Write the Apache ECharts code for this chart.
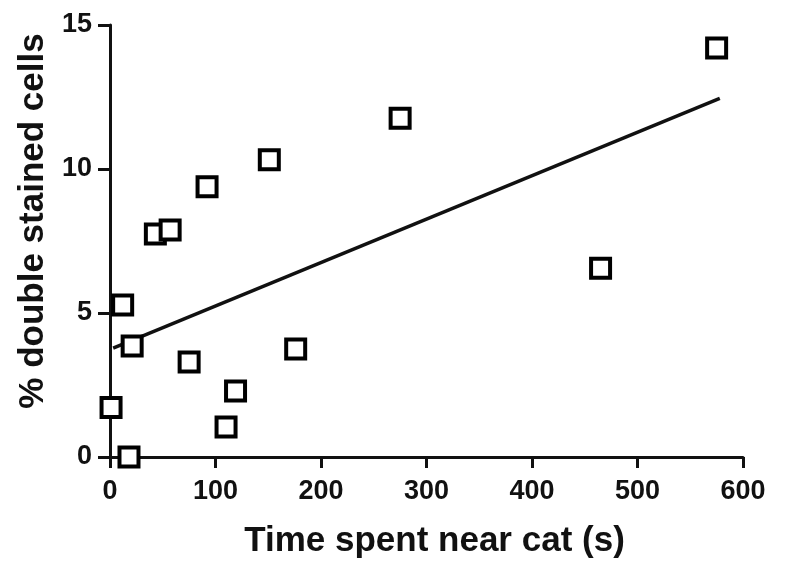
<!DOCTYPE html>
<html>
<head>
<meta charset="utf-8">
<script src="https://cdn.jsdelivr.net/npm/echarts@6/dist/echarts.min.js"></script>
<style>html,body{margin:0;padding:0;background:#fff;}#c{width:794px;height:567px;}</style>
</head>
<body>
<div id="c"></div>
<script>
// Data
const timeNearCat = [1, 18, 12, 21, 43, 57, 75, 92, 110, 119, 151, 176, 275, 465, 575];
const pctDoubleStained = [1.72, 0.0, 5.28, 3.85, 7.74, 7.88, 3.3, 9.38, 1.04, 2.29, 10.32, 3.75, 11.76, 6.55, 14.2];
const fitX = [3, 578];
const fitY = [3.78, 12.45];
const xTicks = [0, 100, 200, 300, 400, 500, 600];
const yTicks = [0, 5, 10, 15];

const points = timeNearCat.map((x, i) => [x, pctDoubleStained[i]]);
const fitLine = fitX.map((x, i) => [x, fitY[i]]);

const font = '"Liberation Sans", Arial, sans-serif';
const chart = echarts.init(document.getElementById('c'));
chart.setOption({
  animation: false,
  backgroundColor: '#fff',
  grid: { left: 110, right: 51, top: 25, bottom: 110 },
  xAxis: {
    type: 'value', min: xTicks[0], max: xTicks[xTicks.length - 1], interval: 100,
    name: 'Time spent near cat (s)', nameLocation: 'middle', nameGap: 67,
    nameTextStyle: { fontFamily: font, fontWeight: 'bold', fontSize: 35, color: '#111', padding: [0, 0, 0, 16] },
    axisLine: { lineStyle: { color: '#111', width: 3 } },
    axisTick: { length: 11, lineStyle: { color: '#111', width: 3 } },
    axisLabel: { fontFamily: font, fontWeight: 'bold', fontSize: 27, color: '#111', margin: 21 },
    splitLine: { show: false }
  },
  yAxis: {
    type: 'value', min: yTicks[0], max: yTicks[yTicks.length - 1], interval: 5,
    name: '% double stained cells', nameLocation: 'middle', nameGap: 52,
    nameTextStyle: { fontFamily: font, fontWeight: 'bold', fontSize: 35, color: '#111', padding: [0, 0, 0, 40] },
    axisLine: { show: true, lineStyle: { color: '#111', width: 3 } },
    axisTick: { show: true, length: 12, lineStyle: { color: '#111', width: 3 } },
    axisLabel: { fontFamily: font, fontWeight: 'bold', fontSize: 27, color: '#111', margin: 18 },
    splitLine: { show: false }
  },
  series: [
    {
      type: 'line', data: fitLine, symbol: 'none', silent: true,
      lineStyle: { color: '#111', width: 3.5 }, z: 3
    },
    {
      type: 'scatter', data: points, symbol: 'rect', symbolSize: 19, clip: false,
      itemStyle: { color: '#fff', borderColor: '#000', borderWidth: 4, opacity: 1 }, z: 4
    }
  ]
});
</script>
</body>
</html>
